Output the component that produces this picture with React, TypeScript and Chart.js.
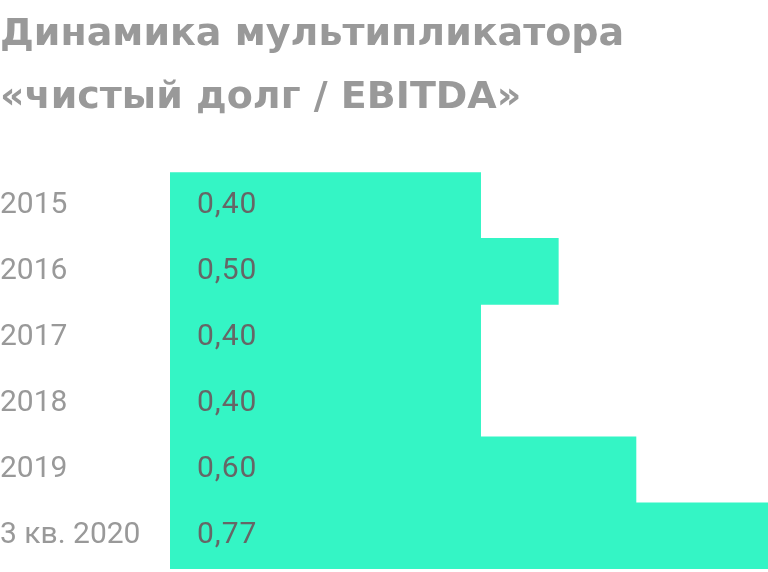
import React, { useEffect, useRef } from "react";
import { Chart, registerables } from "chart.js";

Chart.register(...registerables);

const titleLines = ["Динамика мультипликатора", "«чистый долг / EBITDA»"];
const categories = ["2015", "2016", "2017", "2018", "2019", "3 кв. 2020"];
const values = [0.4, 0.5, 0.4, 0.4, 0.6, 0.77];
const axisMax = 0.77;

const BAR_COLOR = "#34F5C5";
const FONT = "Roboto";
const TITLE_FONT = "'DejaVu Sans'";

const valueLabels = {
  id: "valueLabels",
  afterDatasetsDraw(chart: any) {
    const { ctx, chartArea } = chart;
    const meta = chart.getDatasetMeta(0);
    ctx.save();
    ctx.font = `30px ${FONT}`;
    (ctx as any).letterSpacing = "1px";
    ctx.fillStyle = "#666666";
    ctx.textAlign = "left";
    ctx.textBaseline = "middle";
    meta.data.forEach((bar: any, i: number) => {
      const txt = values[i].toFixed(2).replace(".", ",");
      ctx.fillText(txt, chartArea.left + 27, bar.y);
    });
    ctx.restore();
  },
};

export default function App() {
  const ref = useRef<HTMLCanvasElement>(null);
  useEffect(() => {
    if (!ref.current) return;
    const chart = new Chart(ref.current, {
      type: "bar",
      data: {
        labels: categories,
        datasets: [
          {
            data: values,
            backgroundColor: BAR_COLOR,
            borderWidth: 0,
            categoryPercentage: 1,
            barPercentage: 1,
          },
        ],
      },
      options: {
        indexAxis: "y",
        animation: false,
        responsive: true,
        maintainAspectRatio: false,
        layout: { padding: { left: 0, right: 0, top: 0, bottom: 3 } },
        plugins: {
          legend: { display: false },
          tooltip: { enabled: false },
          title: {
            display: true,
            text: titleLines,
            align: "start",
            color: "#999999",
            font: { family: TITLE_FONT, weight: "bold", size: 38, lineHeight: 1.66 },
            padding: { top: 4, bottom: 42 },
          },
        },
        scales: {
          x: { display: false, min: 0, max: axisMax },
          y: {
            grid: { display: false },
            border: { display: false },
            ticks: {
              color: "#999999",
              font: { family: FONT, size: 30 },
              crossAlign: "far",
              padding: 0,
            },
            afterFit(scale: any) {
              scale.width = 170;
              scale.paddingTop = 0;
              scale.paddingBottom = 0;
            },
          },
        },
      },
      plugins: [valueLabels],
    });
    return () => chart.destroy();
  }, []);
  return (
    <div style={{ position: "absolute", left: 0, top: 0, width: 768, height: 572 }}>
      <canvas ref={ref} />
    </div>
  );
}
